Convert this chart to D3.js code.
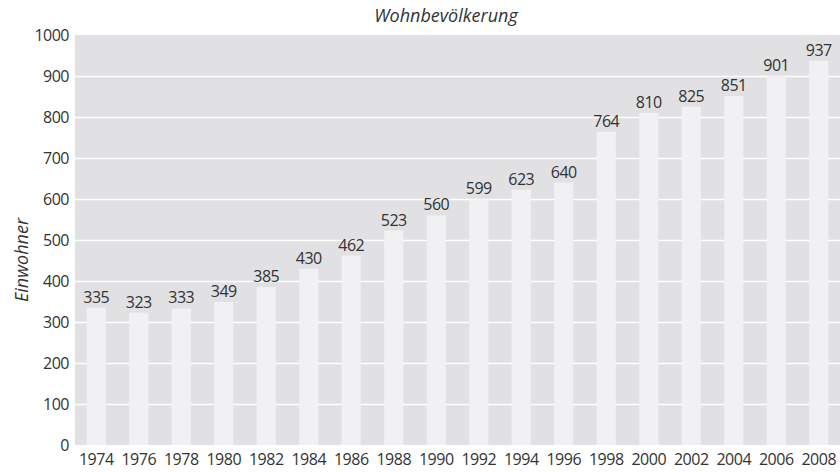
<!DOCTYPE html>
<html>
<head>
<meta charset="utf-8">
<script src="https://cdn.jsdelivr.net/npm/d3@7"></script>
<style>
  html, body { margin: 0; padding: 0; background: #ffffff; }
  svg text { font-family: "Open Sans", "Noto Sans", sans-serif; fill: #333333; }
</style>
</head>
<body>
<svg id="chart" width="840" height="472"></svg>
<script>
// Daten
const years = ['1974', '1976', '1978', '1980', '1982', '1984', '1986', '1988', '1990',
               '1992', '1994', '1996', '1998', '2000', '2002', '2004', '2006', '2008'];
const population = [335, 323, 333, 349, 385, 430, 462, 523, 560,
                     599, 623, 640, 764, 810, 825, 851, 901, 937];
const yTicks = [0, 100, 200, 300, 400, 500, 600, 700, 800, 900, 1000];

const chartTitle = 'Wohnbevölkerung';
const yAxisTitle = 'Einwohner';

// Layout
const width = 840;
const height = 472;
const margin = { top: 35, right: 0, bottom: 27, left: 75 };
const innerWidth = width - margin.left - margin.right;
const innerHeight = height - margin.top - margin.bottom;
const fontStack = '"Open Sans", "Noto Sans", sans-serif';

const svg = d3.select('#chart');

const x = d3.scaleBand()
    .domain(years)
    .range([0, innerWidth])
    .paddingInner(0.55)
    .paddingOuter(0.275);

const y = d3.scaleLinear()
    .domain([0, 1000])
    .range([innerHeight, 0]);

const g = svg.append('g')
    .attr('transform', `translate(${margin.left},${margin.top})`);

// Hintergrund
g.append('rect')
    .attr('width', innerWidth)
    .attr('height', innerHeight)
    .attr('fill', '#e1e1e3');

// Gitternetz
g.selectAll('.grid')
    .data(yTicks.filter(d => d > 0 && d < 1000))
    .enter().append('line')
    .attr('class', 'grid')
    .attr('x1', 0)
    .attr('x2', innerWidth)
    .attr('y1', d => Math.round(y(d)) + 0.5)
    .attr('y2', d => Math.round(y(d)) + 0.5)
    .attr('stroke', '#ffffff')
    .attr('stroke-width', 1.5);

// Balken
g.selectAll('.bar')
    .data(population)
    .enter().append('rect')
    .attr('class', 'bar')
    .attr('x', (d, i) => x(years[i]))
    .attr('y', d => y(d))
    .attr('width', x.bandwidth())
    .attr('height', d => innerHeight - y(d))
    .attr('fill', '#f1f1f3');

// Werte
g.selectAll('.value')
    .data(population)
    .enter().append('text')
    .attr('class', 'value')
    .attr('x', (d, i) => x(years[i]) + x.bandwidth() / 2)
    .attr('y', d => y(d) - 5)
    .attr('text-anchor', 'middle')
    .style('font-size', '16px')
    .style('letter-spacing', '-0.5px')
    .text(d => d);

// Y-Achse
const yAxis = g.append('g')
    .call(d3.axisLeft(y).tickValues(yTicks).tickFormat(d3.format('d')).tickSize(0).tickPadding(6));
yAxis.select('.domain').remove();
yAxis.selectAll('text')
    .style('font-size', '16px')
    .style('letter-spacing', '-0.5px')
    .style('fill', '#333333')
    .style('font-family', fontStack);

// X-Achse
const xAxis = g.append('g')
    .attr('transform', `translate(0,${innerHeight})`)
    .call(d3.axisBottom(x).tickSize(0).tickPadding(9));
xAxis.select('.domain').remove();
xAxis.selectAll('text')
    .style('font-size', '16px')
    .style('letter-spacing', '-0.5px')
    .style('fill', '#333333')
    .style('font-family', fontStack);

// Titel
svg.append('text')
    .attr('x', 446)
    .attr('y', 22)
    .attr('text-anchor', 'middle')
    .style('font-size', '18px')
    .style('font-style', 'italic')
    .text(chartTitle);

svg.append('text')
    .attr('transform', 'translate(28,260) rotate(-90)')
    .attr('text-anchor', 'middle')
    .style('font-size', '18px')
    .style('font-style', 'italic')
    .text(yAxisTitle);
</script>
</body>
</html>
